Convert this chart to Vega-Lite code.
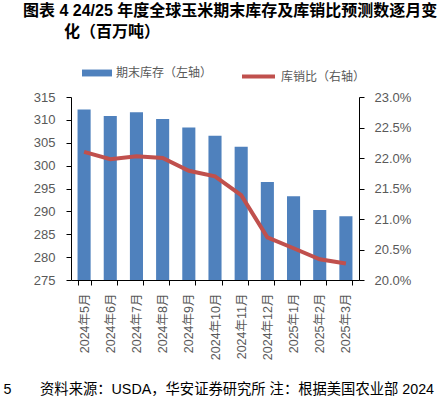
{
  "$schema": "https://vega.github.io/schema/vega-lite/v6.json",
  "width": 288,
  "height": 183,
  "autosize": {"type": "none"},
  "padding": {"left": 71, "top": 97, "right": 81, "bottom": 116},
  "background": "white",
  "config": {
    "font": "Liberation Sans, Noto Sans CJK SC",
    "view": {"stroke": null},
    "axis": {
      "grid": false,
      "labelColor": "#595959",
      "labelFont": "Liberation Sans, Noto Sans CJK SC",
      "labelFontSize": 13,
      "domainColor": "#000000",
      "tickColor": "#000000",
      "tickSize": 5,
      "domainWidth": 1,
      "tickWidth": 1
    },
    "legend": {
      "labelColor": "#595959",
      "labelFont": "Liberation Sans, Noto Sans CJK SC",
      "labelFontSize": 12,
      "padding": 0,
      "labelOffset": 4
    }
  },
  "title": {
    "text": ["图表 4 24/25 年度全球玉米期末库存及库销比预测数逐月变", "\u200b\u3000\u3000\u00a0\u00a0化（百万吨）"],
    "anchor": "start",
    "frame": "group",
    "orient": "top",
    "dx": -48,
    "dy": -14,
    "fontSize": 16,
    "fontWeight": "bold",
    "color": "#000000",
    "lineHeight": 21,
    "font": "Liberation Sans, Noto Sans CJK SC"
  },
  "data": {
    "values": [
      {"month": "2024年5月", "stock": 312.27, "ratio": 0.2210},
      {"month": "2024年6月", "stock": 310.82, "ratio": 0.2198},
      {"month": "2024年7月", "stock": 311.65, "ratio": 0.2203},
      {"month": "2024年8月", "stock": 310.20, "ratio": 0.2200},
      {"month": "2024年9月", "stock": 308.35, "ratio": 0.2179},
      {"month": "2024年10月", "stock": 306.52, "ratio": 0.2170},
      {"month": "2024年11月", "stock": 304.10, "ratio": 0.2139},
      {"month": "2024年12月", "stock": 296.44, "ratio": 0.2070},
      {"month": "2025年1月", "stock": 293.32, "ratio": 0.2052},
      {"month": "2025年2月", "stock": 290.31, "ratio": 0.2034},
      {"month": "2025年3月", "stock": 288.94, "ratio": 0.2027}
    ]
  },
  "encoding": {
    "x": {
      "field": "month",
      "type": "nominal",
      "sort": null,
      "scale": {"paddingInner": 0.5, "paddingOuter": 0.25},
      "axis": {
        "labelAngle": -90,
        "labelAlign": "right",
        "labelBaseline": "middle",
        "labelPadding": 8,
        "labelFontSize": 12.5,
        "tickBand": "extent",
        "zindex": 1,
        "title": "5　　资料来源：USDA，华安证券研究所 注：根据美国农业部 2024",
        "titleX": -68,
        "titleY": 113,
        "titleAlign": "left",
        "titleBaseline": "alphabetic",
        "titleFontSize": 14.3,
        "titleFontWeight": "normal",
        "titleColor": "#000000",
        "titleFont": "Liberation Sans, Noto Sans CJK SC"
      }
    }
  },
  "layer": [
    {
      "mark": {"type": "bar", "clip": true},
      "encoding": {
        "y": {
          "field": "stock",
          "type": "quantitative",
          "scale": {"domain": [275, 315], "zero": false, "nice": false},
          "axis": {
            "orient": "left",
            "values": [275, 280, 285, 290, 295, 300, 305, 310, 315],
            "title": null,
            "labelPadding": 11,
            "zindex": 1
          }
        },
        "color": {
          "datum": "期末库存（左轴）",
          "type": "nominal",
          "scale": {"range": ["#4F81BD"]},
          "legend": {
            "title": null,
            "orient": "none",
            "legendX": 11,
            "legendY": -39,
            "symbolType": "M-1,-0.23H1V0.23H-1Z",
            "symbolSize": 900,
            "symbolStrokeWidth": 0
          }
        }
      }
    },
    {
      "mark": {"type": "line", "strokeWidth": 4},
      "encoding": {
        "y": {
          "field": "ratio",
          "type": "quantitative",
          "scale": {"domain": [0.2, 0.23], "zero": false, "nice": false},
          "axis": {
            "orient": "right",
            "values": [0.2, 0.205, 0.21, 0.215, 0.22, 0.225, 0.23],
            "format": ".1%",
            "title": null,
            "labelPadding": 10,
            "zindex": 1
          }
        },
        "stroke": {
          "datum": "库销比（右轴）",
          "type": "nominal",
          "scale": {"range": ["#C0504D"]},
          "legend": {
            "title": null,
            "orient": "none",
            "legendX": 169,
            "legendY": -39,
            "symbolType": "stroke",
            "symbolSize": 1089,
            "symbolStrokeWidth": 4
          }
        }
      }
    }
  ],
  "resolve": {"scale": {"y": "independent"}}
}
